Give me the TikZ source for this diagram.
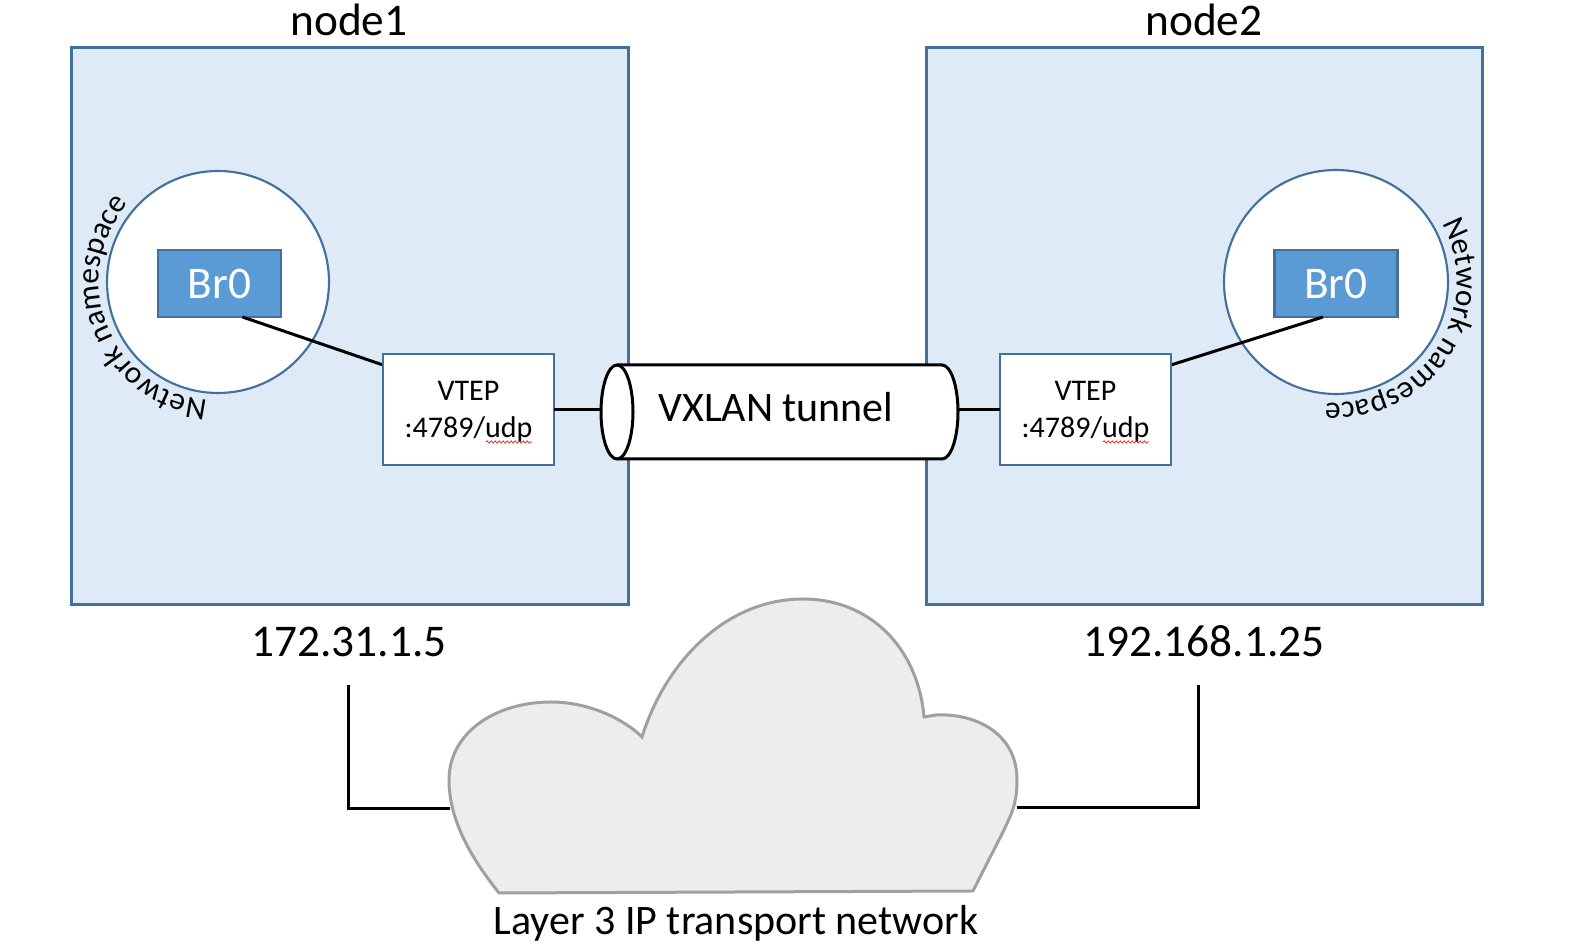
\documentclass[tikz,border=0pt]{standalone}
\usepackage{fontspec}
\setmainfont{Carlito}
\usetikzlibrary{calc,decorations.text,decorations.pathmorphing}
\definecolor{boxfill}{HTML}{DEEAF6}
\definecolor{boxline}{HTML}{41719C}
\definecolor{brfill}{HTML}{5B9BD5}
\definecolor{cloudfill}{HTML}{EDEDED}
\definecolor{cloudline}{HTML}{A0A0A0}
\begin{document}
\begin{tikzpicture}[x=0.75pt,y=0.75pt,
  hostbox/.style={draw=boxline,fill=boxfill,line width=2.25pt,minimum width=417.4pt,minimum height=417.4pt,inner sep=0pt,outer sep=0pt},
  nsring/.style={circle,draw=boxline,fill=white,line width=1.6pt,inner sep=0pt,outer sep=0pt},
  brbox/.style={draw=boxline,fill=brfill,line width=1.8pt,minimum width=92.25pt,minimum height=50.25pt,inner sep=0pt,outer sep=0pt,text=white,font=\fontsize{34}{34}\selectfont},
  vtepbox/.style={draw=boxline,fill=white,line width=1.8pt,minimum width=128.25pt,minimum height=83.25pt,inner sep=0pt,outer sep=0pt},
  vteptext/.style={anchor=base,font=\fontsize{22.5}{22.5}\selectfont,inner sep=0pt},
  title/.style={anchor=base,font=\fontsize{34}{34}\selectfont,inner sep=0pt},
  wire/.style={line width=2.25pt,black},
  spell/.style={red,line width=0.5pt,decorate,decoration={snake,amplitude=0.8pt,segment length=3pt}},
  nslabel/.style={decorate,decoration={text along path,text={|\fontsize{23.5}{23.5}\selectfont|Network namespace}}},
]
\useasboundingbox (0,0) rectangle (1581,948);

% hosts
\node[hostbox] (h1) at (349.75,622.25) {};
\node[hostbox] (h2) at (1204.5,622.25) {};
\node[title] (t1) at (349,912) {node1};
\node[title] (t2) at (1204,912) {node2};

% namespaces
\node[nsring,minimum size=166.5pt] (ns1) at (218,666) {};
\node[nsring,minimum size=168pt] (ns2) at (1336,666) {};
\path[nslabel] (218,666) ++(265:119) arc[start angle=265,end angle=90,radius=119];
\path[nslabel] (1336,666) ++(29:121) arc[start angle=29,end angle=-160,radius=121];

\node[brbox] (b1) at (219.5,664.5) {Br0};
\node[brbox] (b2) at (1336,664.5) {Br0};

% VTEPs
\node[vtepbox] (v1) at (468.5,538.5) {};
\node[vtepbox] (v2) at (1085.5,538.5) {};
\draw[wire] ($(b1.south)+(23,0)$) -- ($(v1.north west)+(0,-11)$);
\draw[wire] ($(b2.south)+(-13,0)$) -- ($(v2.north east)+(0,-11)$);
\node[vtepbox] at (v1) {};
\node[vtepbox] at (v2) {};
\node[vteptext] (v1a) at (468.5,547) {VTEP};
\node[vteptext] (v1b) at (468.5,510) {:4789/udp};
\node[vteptext] (v2a) at (1085.5,547) {VTEP};
\node[vteptext] (v2b) at (1085.5,510) {:4789/udp};
\draw[spell] (486,506) -- (532,506);
\draw[spell] (1103,506) -- (1149,506);

% tunnel
\draw[wire,fill=white] (617,583) -- (942,583) arc[start angle=90,end angle=-90,x radius=16,y radius=47] -- (617,489) arc[start angle=270,end angle=90,x radius=16,y radius=47] -- cycle;
\draw[wire] (617,583) arc[start angle=90,end angle=-90,x radius=16,y radius=47];
\node[anchor=base,font=\fontsize{31.5}{31.5}\selectfont,inner sep=0pt] (tun) at (776,526) {VXLAN tunnel};
\coordinate (tunL) at (601,536);
\coordinate (tunR) at (958,536);
\draw[wire] (v1.east) -- (v1.east -| tunL);
\draw[wire] (v2.west) -- (v2.west -| tunR);

% cloud
\draw[cloudline,fill=cloudfill,line width=2.25pt] (499,55) .. controls (475,85) and (449,125) .. (449,168) .. controls (449,215) and (495,246) .. (551,246) .. controls (590,246) and (625,228) .. (642,211) .. controls (665,285) and (725,349) .. (803,349) .. controls (870,349) and (918,300) .. (924,231) -- (936,233) .. controls (975,235) and (1017,215) .. (1017,168) .. controls (1017,145) and (1012,135) .. (1004,118) -- (973,57) -- cycle;
\coordinate (cloudL) at (450,139);
\coordinate (cloudR) at (1017,140);

\node[title] (ip1) at (349,291) {172.31.1.5};
\node[title] (ip2) at (1204,291) {192.168.1.25};
\draw[wire] ($(ip1.base)+(-1,-28)$) |- (cloudL);
\draw[wire] ($(ip2.base)+(-6,-28)$) |- (cloudR);

\node[anchor=base,font=\fontsize{31.5}{31.5}\selectfont,inner sep=0pt] (l3) at (736,13) {Layer 3 IP transport network};
\end{tikzpicture}
\end{document}
